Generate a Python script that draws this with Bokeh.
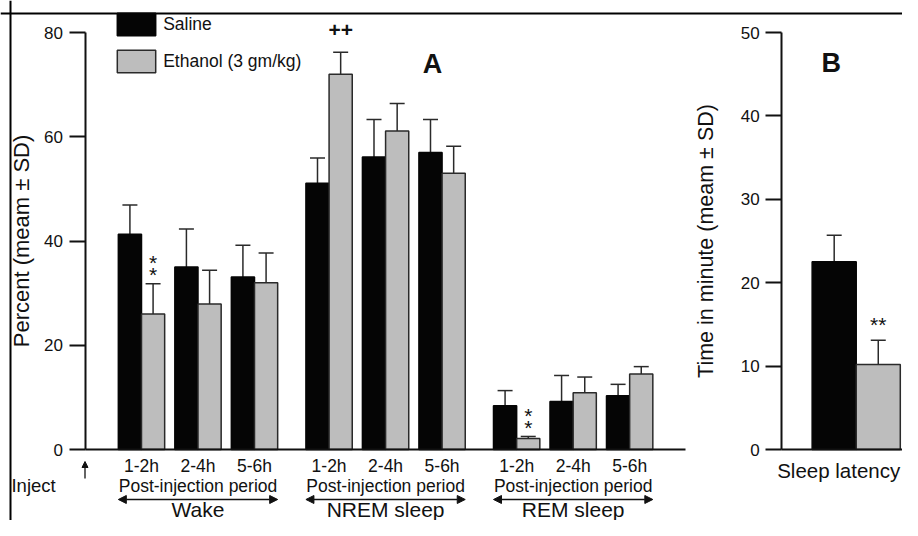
from bokeh.plotting import figure
from bokeh.models import (Range1d, LinearAxis, FixedTicker, Whisker, TeeHead, Arrow,
                          NormalHead, Span, Legend, LegendItem, ColumnDataSource)
from bokeh.core.properties import value
from bokeh.embed import file_html
from bokeh.resources import INLINE

# ---------------- data ----------------
groups = ["Wake", "NREM sleep", "REM sleep"]
periods = ["1-2h", "2-4h", "5-6h"]
period_caption = "Post-injection period"
saline_mean = [41.3, 35.0, 33.1, 51.1, 56.1, 57.0, 8.4, 9.2, 10.3]
saline_sd = [5.6, 7.3, 6.1, 4.8, 7.2, 6.3, 2.9, 5.0, 2.2]
ethanol_mean = [26.0, 27.9, 32.0, 72.0, 61.1, 53.0, 2.1, 10.9, 14.5]
ethanol_sd = [5.8, 6.5, 5.7, 4.2, 5.3, 5.2, 0.4, 3.0, 1.4]
ethanol_mark = ["**", "", "", "++", "", "", "**", "", ""]
latency_label = "Sleep latency"
latency_saline = [22.5]
latency_saline_sd = [3.2]
latency_ethanol = [10.2]
latency_ethanol_sd = [2.9]
latency_mark = "**"
left_ticks = [0, 20, 40, 60, 80]
right_ticks = [0, 10, 20, 30, 40, 50]
series_names = ["Saline", "Ethanol (3 gm/kg)"]

# ---------------- layout ----------------
FONT = "Liberation Sans"
W, H = 902, 520
PX = 56.5              # pixels per x slot
PY = 417 / 80          # pixels per percent unit
X0 = -141 / PX
X1 = X0 + W / PX
Y0 = -(H - 449) / PY
Y1 = Y0 + H / PY
R = 50 / 80            # right panel scale factor
GSTEP = 3.32
BW = 0.41
AX_L = -1.0
AX_R = 11.33
BASE_END = 9.63
LAT_C = 12.65
LBW = 0.78
SAL_COL = "#050505"
ETH_COL = "#bdbdbd"
EDGE = "#2a2a2a"
TXT = "#111111"

p = figure(width=W, height=H, x_range=Range1d(X0, X1), y_range=Range1d(Y0, Y1),
           x_axis_type=None, y_axis_type=None, output_backend="svg",
           toolbar_location=None, min_border=0)
p.extra_y_ranges = {"right": Range1d(Y0 * R, Y1 * R)}
p.outline_line_color = None
p.background_fill_color = "white"
p.border_fill_color = "white"


def style_axis(ax, label_standoff, label_size):
    ax.axis_line_width = 2
    ax.axis_line_color = TXT
    ax.major_tick_line_width = 2
    ax.major_tick_line_color = TXT
    ax.major_tick_in = 0
    ax.major_tick_out = 16
    ax.minor_tick_line_color = None
    ax.major_label_text_font = FONT
    ax.major_label_text_font_size = "17px"
    ax.major_label_text_color = TXT
    ax.major_label_standoff = 6
    ax.axis_label_text_font = FONT
    ax.axis_label_text_font_size = label_size
    ax.axis_label_text_font_style = "normal"
    ax.axis_label_text_color = TXT
    ax.axis_label_standoff = label_standoff


ax_l = LinearAxis(fixed_location=AX_L, bounds=(0, 80), ticker=FixedTicker(ticks=left_ticks),
                  axis_label="Percent (meam ± SD)")
style_axis(ax_l, 8, "22px")
p.add_layout(ax_l, "left")

ax_r = LinearAxis(y_range_name="right", fixed_location=AX_R, bounds=(0, 50),
                  ticker=FixedTicker(ticks=right_ticks), axis_label="Time in minute (meam ± SD)")
style_axis(ax_r, 20, "21.5px")
p.add_layout(ax_r, "left")

for b0, b1 in [(AX_L, BASE_END), (AX_R, X1)]:
    bx = LinearAxis(fixed_location=0, bounds=(b0, b1), ticker=FixedTicker(ticks=[]))
    bx.axis_line_width = 2
    bx.axis_line_color = TXT
    bx.major_label_text_color = None
    bx.major_tick_line_color = None
    bx.minor_tick_line_color = None
    p.add_layout(bx, "below")

# ---------------- panel A bars ----------------
centers = [g * GSTEP + k for g in range(len(groups)) for k in range(len(periods))]
sal_src = ColumnDataSource(dict(
    x=[c - BW / 2 for c in centers], top=saline_mean,
    upper=[m + s for m, s in zip(saline_mean, saline_sd)]))
eth_src = ColumnDataSource(dict(
    x=[c + BW / 2 for c in centers], top=ethanol_mean,
    upper=[m + s for m, s in zip(ethanol_mean, ethanol_sd)]))

r_sal = p.vbar(x="x", top="top", bottom=0, width=BW, source=sal_src,
               fill_color=SAL_COL, line_color=SAL_COL, line_width=1.5)
r_eth = p.vbar(x="x", top="top", bottom=0, width=BW, source=eth_src,
               fill_color=ETH_COL, line_color=EDGE, line_width=1.5)

for src in (sal_src, eth_src):
    p.add_layout(Whisker(source=src, base="x", lower="top", upper="upper",
                         line_color=EDGE, line_width=1.5, lower_head=None,
                         upper_head=TeeHead(size=15, line_color=EDGE, line_width=1.5)))

# ---------------- panel B bars ----------------
lat_sal = ColumnDataSource(dict(x=[LAT_C - LBW / 2], top=latency_saline,
                                upper=[latency_saline[0] + latency_saline_sd[0]]))
lat_eth = ColumnDataSource(dict(x=[LAT_C + LBW / 2], top=latency_ethanol,
                                upper=[latency_ethanol[0] + latency_ethanol_sd[0]]))
p.vbar(x="x", top="top", bottom=0, width=LBW, source=lat_sal, y_range_name="right",
       fill_color=SAL_COL, line_color=SAL_COL, line_width=1.5)
p.vbar(x="x", top="top", bottom=0, width=LBW, source=lat_eth, y_range_name="right",
       fill_color=ETH_COL, line_color=EDGE, line_width=1.5)
for src in (lat_sal, lat_eth):
    p.add_layout(Whisker(source=src, base="x", lower="top", upper="upper", y_range_name="right",
                         line_color=EDGE, line_width=1.5, lower_head=None,
                         upper_head=TeeHead(size=15, line_color=EDGE, line_width=1.5)))

# ---------------- significance marks ----------------
plus_x, plus_y, star_x, star_y = [], [], [], []
for i, mk in enumerate(ethanol_mark):
    up = ethanol_mean[i] + ethanol_sd[i]
    xc = centers[i] + BW / 2
    if mk == "++":
        plus_x.append(xc)
        plus_y.append(up + 4.2)
    elif mk == "**":
        star_x += [xc, xc]
        star_y += [up + 1.8, up + 4.1]
p.text(x=plus_x, y=plus_y, text=["++"] * len(plus_x), text_align="center", text_baseline="middle",
       text_font=value(FONT), text_font_size="21px", text_font_style="bold", text_color=TXT)
p.text(x=star_x, y=star_y, text=["*"] * len(star_x), text_align="center", text_baseline="middle",
       text_font=value(FONT), text_font_size="21px", text_color=TXT)
p.text(x=[LAT_C + LBW / 2], y=[latency_ethanol[0] + latency_ethanol_sd[0] + 1.9],
       text=[latency_mark], text_align="center", text_baseline="middle", y_range_name="right",
       text_font=value(FONT), text_font_size="21px", text_color=TXT)

# ---------------- category labels ----------------
p.text(x=centers, y=[-3.07] * len(centers), text=periods * len(groups),
       text_align="center", text_baseline="middle", text_font=value(FONT),
       text_font_size="17.5px", text_color=TXT)
gcent = [g * GSTEP + 1 for g in range(len(groups))]
p.text(x=gcent, y=[-6.91] * len(groups), text=[period_caption] * len(groups),
       text_align="center", text_baseline="middle", text_font=value(FONT),
       text_font_size="17.5px", text_color=TXT)
p.text(x=gcent, y=[-11.51] * len(groups), text=groups,
       text_align="center", text_baseline="middle", text_font=value(FONT),
       text_font_size="21px", text_color=TXT)
for g in range(len(groups)):
    xa = g * GSTEP - BW
    xb = g * GSTEP + 2 + BW
    p.add_layout(Arrow(x_start=xa, y_start=-9.59, x_end=xb, y_end=-9.59,
                       line_color=TXT, line_width=1.3,
                       start=NormalHead(size=8, fill_color=TXT, line_color=TXT, line_width=1),
                       end=NormalHead(size=8, fill_color=TXT, line_color=TXT, line_width=1)))
p.text(x=[-1.91], y=[-6.91], text=["Inject"], text_align="center", text_baseline="middle",
       text_font=value(FONT), text_font_size="18.5px", text_color=TXT)
p.add_layout(Arrow(x_start=AX_L, y_start=-5.56, x_end=AX_L, y_end=-2.3, line_color=TXT,
                   line_width=1.3, end=NormalHead(size=6, fill_color=TXT, line_color=TXT)))
p.text(x=[12.34], y=[-4.03 * R], text=[latency_label], y_range_name="right",
       text_align="center", text_baseline="middle", text_font=value(FONT),
       text_font_size="20.5px", text_color=TXT)

# panel letters
p.text(x=[5.15], y=[74.05], text=["A"], text_align="center", text_baseline="middle",
       text_font=value(FONT), text_font_size="27px", text_font_style="bold", text_color=TXT)
p.text(x=[12.21], y=[46.4], text=["B"], y_range_name="right", text_align="center",
       text_baseline="middle", text_font=value(FONT), text_font_size="27px",
       text_font_style="bold", text_color=TXT)

# ---------------- legend ----------------
legend = Legend(items=[LegendItem(label=series_names[0], renderers=[r_sal]),
                       LegendItem(label=series_names[1], renderers=[r_eth])],
                location=(112.2, 444.8), glyph_width=48, glyph_height=28, spacing=9,
                padding=0, margin=0, border_line_color=None, background_fill_alpha=0,
                label_text_font=FONT, label_text_font_size="17.5px", label_text_color=TXT,
                label_standoff=3)
p.add_layout(legend)

# ---------------- frame lines (top and left) ----------------
p.add_layout(Span(location=Y1 - 13 / PY, dimension="width", line_color="black", line_width=2))
p.add_layout(Span(location=X0 + 10 / PX, dimension="height", line_color="black", line_width=2))

open("out.html", "w").write(file_html(p, INLINE))
